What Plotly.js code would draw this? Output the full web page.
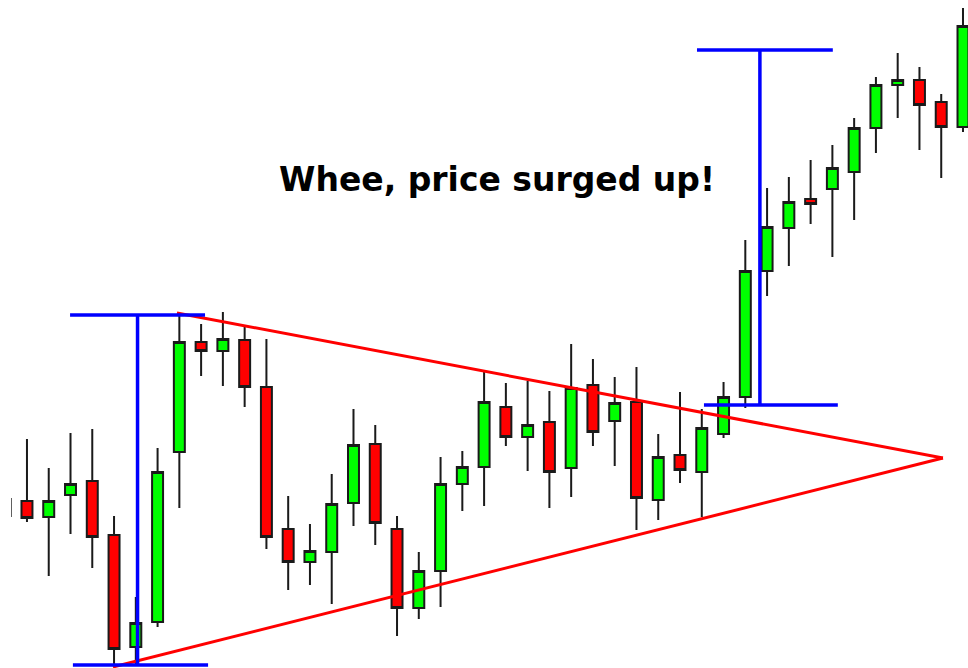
<!DOCTYPE html>
<html>
<head>
<meta charset="utf-8">
<script src="https://cdn.plot.ly/plotly-3.0.1.min.js"></script>
<style>html,body{margin:0;padding:0;background:#fff;}#chart{width:968px;height:668px;}</style>
</head>
<body>
<div id="chart"></div>
<script>
// candle index (session number)
const sessions = [0,1,2,3,4,5,6,7,8,9,10,11,12,13,14,15,16,17,18,19,20,21,22,23,24,25,26,27,28,29,30,31,32,33,34,35,36,37,38,39,40,41,42,43,44];
const openVals  = [169,167,151,173,187,133,21,46,216,326,317,328,281,139,106,116,165,224,139,60,97,184,201,261,231,246,200,283,247,266,168,213,196,234,271,397,440,469,479,496,540,583,588,566,541];
const highVals  = [169,229,200,235,239,152,71,220,352,344,356,343,329,172,144,194,259,243,152,116,211,217,296,285,287,277,324,309,291,301,234,276,259,286,428,480,491,508,523,550,591,615,601,574,660];
const lowVals   = [152,146,92,134,100,1,4,41,160,292,282,261,119,78,83,64,142,123,32,49,61,157,162,222,197,160,171,222,202,138,148,185,151,230,260,372,402,444,411,448,515,550,518,490,536];
const closeVals = [152,150,167,184,131,19,45,196,326,317,329,281,131,106,117,164,223,145,60,97,184,201,266,231,243,196,280,236,265,170,211,198,240,271,397,441,466,464,500,540,583,588,563,541,642];

// annotation geometry (x in session units, y in price units)
const measureLeft  = {x0: 2.98, x1: 9.18, xv: 6.08, top: 353, bottom: 3, bx0: 3.11, bx1: 9.32};
const measureRight = {x0: 31.78, x1: 38.02, xv: 34.67, top: 618, bottom: 263, bx0: 32.10, bx1: 38.25};
const triUpper = [[7.89, 355], [43.08, 210]];
const triLower = [[4.95, 1], [43.08, 210]];
const labelText = "Whee, price surged up!";
const labelPos = [22.57, 489];

const BLUE = '#0000ff', RED = '#ff0000';
function seg(x0, y0, x1, y1, color, w) {
  return {type: 'line', xref: 'x', yref: 'y', x0: x0, y0: y0, x1: x1, y1: y1,
          line: {color: color, width: w}, layer: 'above'};
}
const shapes = [
  seg(triUpper[0][0], triUpper[0][1], triUpper[1][0], triUpper[1][1], RED, 3),
  seg(triLower[0][0], triLower[0][1], triLower[1][0], triLower[1][1], RED, 3),
  seg(measureLeft.x0, measureLeft.top, measureLeft.x1, measureLeft.top, BLUE, 3.5),
  seg(measureLeft.xv, measureLeft.top, measureLeft.xv, measureLeft.bottom, BLUE, 3.5),
  seg(measureLeft.bx0, measureLeft.bottom, measureLeft.bx1, measureLeft.bottom, BLUE, 3.5),
  seg(measureRight.x0, measureRight.top, measureRight.x1, measureRight.top, BLUE, 3.5),
  seg(measureRight.xv, measureRight.top, measureRight.xv, measureRight.bottom, BLUE, 3.5),
  seg(measureRight.bx0, measureRight.bottom, measureRight.bx1, measureRight.bottom, BLUE, 3.5)
];

const trace = {
  type: 'candlestick',
  x: sessions, open: openVals, high: highVals, low: lowVals, close: closeVals,
  increasing: {line: {color: '#1a1a1a', width: 2}, fillcolor: '#00ff00'},
  decreasing: {line: {color: '#1a1a1a', width: 2}, fillcolor: '#ff0000'},
  whiskerwidth: 0,
  hoverinfo: 'skip',
  showlegend: false
};

const layout = {
  width: 968, height: 668,
  margin: {l: 11, r: 0, t: 0, b: 0, pad: 0},
  paper_bgcolor: '#ffffff', plot_bgcolor: '#ffffff',
  showlegend: false,
  boxgap: 0.28,
  xaxis: {range: [0.2664, 44.23], visible: false, showgrid: false, zeroline: false,
          rangeslider: {visible: false}, fixedrange: true},
  yaxis: {range: [0, 668], visible: false, showgrid: false, zeroline: false, fixedrange: true},
  shapes: shapes,
  annotations: [{
    x: labelPos[0], y: labelPos[1], xref: 'x', yref: 'y',
    text: '<b>' + labelText + '</b>', showarrow: false,
    xanchor: 'center', yanchor: 'middle',
    font: {family: 'DejaVu Sans, Arial, sans-serif', size: 33, color: '#000000'}
  }]
};

Plotly.newPlot('chart', [trace], layout, {displayModeBar: false, staticPlot: true});
</script>
</body>
</html>
